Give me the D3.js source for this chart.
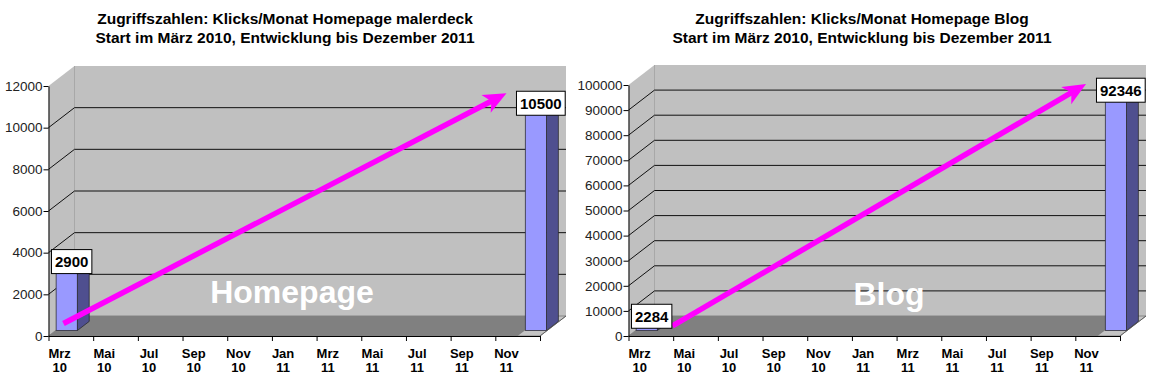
<!DOCTYPE html>
<html><head><meta charset="utf-8">
<script src="https://cdn.jsdelivr.net/npm/d3@7"></script>
<style>body{margin:0;background:#fff} svg{display:block;font-family:"Liberation Sans",Arial,sans-serif}</style>
</head><body><svg id="c" width="1154" height="385"></svg>
<script>
// ---- data ----
const months = ["Mrz 10","Apr 10","Mai 10","Jun 10","Jul 10","Aug 10","Sep 10","Okt 10","Nov 10","Dez 10",
  "Jan 11","Feb 11","Mrz 11","Apr 11","Mai 11","Jun 11","Jul 11","Aug 11","Sep 11","Okt 11","Nov 11","Dez 11"];
const homepageClicks = [2900,null,null,null,null,null,null,null,null,null,null,null,null,null,null,null,null,null,null,null,null,10500];
const blogClicks = [2284,null,null,null,null,null,null,null,null,null,null,null,null,null,null,null,null,null,null,null,null,92346];
const homepageTicks = [0,2000,4000,6000,8000,10000,12000];
const blogTicks = [0,10000,20000,30000,40000,50000,60000,70000,80000,90000,100000];
const homepageTitle = ["Zugriffszahlen: Klicks/Monat Homepage malerdeck","Start im März 2010, Entwicklung bis Dezember 2011"];
const blogTitle = ["Zugriffszahlen: Klicks/Monat Homepage Blog","Start im März 2010, Entwicklung bis Dezember 2011"];
const homepageWord = "Homepage";
const blogWord = "Blog";
// trend arrows: [category position, value]
const homepageArrow = [[0.67, 600],[20.5, 11650]];
const blogArrow = [[1.97, 4000],[20.48, 100400]];

// ---- layout ----
const svg = d3.select("#c");
const DX = 26, DY = -20, F0 = 0.27, F1 = 0.73;

function drawChart(cfg, values, ticks, title, word, arrow) {
  const g = svg.append("g");
  const n = months.length;
  const x = d3.scaleLinear().domain([0, n]).range([cfg.x0, cfg.x1]);
  const y = d3.scaleLinear().domain([0, d3.max(ticks)]).range([cfg.yBot, cfg.yTop]);
  const line = d3.line();
  const x0 = cfg.x0, x1 = cfg.x1, yT = cfg.yTop, yB = cfg.yBot;

  // title
  g.append("text").attr("x", cfg.titleX).attr("y", 24).attr("text-anchor","middle")
    .attr("font-weight","bold").attr("font-size",15.5).attr("fill","#000").text(title[0]);
  g.append("text").attr("x", cfg.titleX).attr("y", 42.5).attr("text-anchor","middle")
    .attr("font-weight","bold").attr("font-size",15.5).attr("fill","#000").text(title[1]);

  // side wall
  g.append("path").attr("d", line([[x0,yT],[x0+DX,yT+DY],[x0+DX,yB+DY],[x0,yB]])+"Z")
    .attr("fill","#c0c0c0");
  // back wall
  g.append("rect").attr("x", x0+DX).attr("y", yT+DY).attr("width", x1-x0).attr("height", yB-yT)
    .attr("fill","#c0c0c0");
  g.append("line").attr("x1",x0+DX).attr("x2",x0+DX).attr("y1",yT+DY).attr("y2",yB+DY)
    .attr("stroke","#a8a8a8").attr("stroke-width",1);
  // floor
  g.append("path").attr("d", line([[x0,yB],[x0+DX,yB+DY],[x1+DX,yB+DY],[x1,yB]])+"Z")
    .attr("fill","#c4c4c4").attr("stroke","#777").attr("stroke-width",0.8);
  const lastX = x(n-1);
  g.append("path").attr("d", line([[x0,yB],[x0+DX,yB+DY],[lastX+DX,yB+DY],[lastX,yB]])+"Z")
    .attr("fill","#808080");

  // gridlines
  ticks.filter(t => t > 0 && t < d3.max(ticks)).forEach(t => {
    const yy = y(t);
    g.append("path").attr("d", line([[x0,yy],[x0+DX,yy+DY],[x1+DX,yy+DY]]))
      .attr("fill","none").attr("stroke","#111").attr("stroke-width",1);
  });

  // big word
  g.append("text").attr("x", cfg.wordX).attr("y", cfg.wordY).attr("text-anchor","middle")
    .attr("font-weight","bold").attr("font-size",32).attr("fill","#ffffff").text(word);

  // bars
  const bw = x(1) - x(0);
  const dbx = (F1-F0)*DX, dby = (F1-F0)*DY;
  const bars = [];
  values.forEach((v,i) => {
    if (v == null) return;
    const bx0 = x(i) + F0*DX + 0.6, bx1 = x(i+1) + F0*DX - 0.6;
    const yb = y(0) + F0*DY, yt = y(v) + F0*DY;
    g.append("path").attr("d", line([[bx1,yt],[bx1+dbx,yt+dby],[bx1+dbx,yb+dby],[bx1,yb]])+"Z")
      .attr("fill","#4f4f8f").attr("stroke","#222").attr("stroke-width",0.7);
    g.append("path").attr("d", line([[bx0,yt],[bx0+dbx,yt+dby],[bx1+dbx,yt+dby],[bx1,yt]])+"Z")
      .attr("fill","#7a7acc").attr("stroke","#222").attr("stroke-width",0.7);
    g.append("rect").attr("x",bx0).attr("y",yt).attr("width",bx1-bx0).attr("height",yb-yt)
      .attr("fill","#9999ff").attr("stroke","#222").attr("stroke-width",0.7);
    bars.push({v, cx:(bx0+bx1)/2 + dbx/2 - 1, cy: yt + dby/2 - 4});
  });

  // axes
  const ya = g.append("g").attr("transform",`translate(${x0},0)`)
    .call(d3.axisLeft(y).tickValues(ticks).tickFormat(d3.format("d")).tickSize(5).tickSizeOuter(0));
  ya.select(".domain").attr("stroke","#000");
  ya.selectAll(".tick line").attr("stroke","#000");
  ya.selectAll("text").attr("font-size",13.5).attr("font-family","Liberation Sans, Arial, sans-serif")
    .attr("fill","#222").attr("x",-6);

  const xa = g.append("g").attr("transform",`translate(0,${yB})`)
    .call(d3.axisBottom(x).tickValues(d3.range(0, n+1, 2)).tickFormat("").tickSize(5).tickSizeOuter(0));
  xa.select(".domain").attr("stroke","#000");
  xa.selectAll(".tick line").attr("stroke","#000");
  g.append("line").attr("x1",x1).attr("y1",yB).attr("x2",x1+DX).attr("y2",yB+DY)
    .attr("stroke","#555").attr("stroke-width",0.8);

  months.forEach((m,i) => {
    if (i % 2) return;
    const parts = m.split(" ");
    const t = g.append("text").attr("text-anchor","middle").attr("font-weight","bold")
      .attr("font-size",13).attr("fill","#000");
    t.append("tspan").attr("x", x(i+0.5)).attr("y", 358).text(parts[0]);
    t.append("tspan").attr("x", x(i+0.5)).attr("y", 372).text(parts[1]);
  });

  // arrow
  const p0 = [x(arrow[0][0]), y(arrow[0][1])], p1 = [x(arrow[1][0]), y(arrow[1][1])];
  const ang = Math.atan2(p1[1]-p0[1], p1[0]-p0[0]);
  const pe = [p1[0]-14*Math.cos(ang), p1[1]-14*Math.sin(ang)];
  g.append("path").attr("d", line([p0, pe])).attr("stroke","#ff00ff").attr("stroke-width",5.5)
    .attr("fill","none");
  g.append("path").attr("d","M0,0L-23,-10L-17,0L-23,10Z")
    .attr("transform",`translate(${p1[0]},${p1[1]}) rotate(${ang*180/Math.PI})`)
    .attr("fill","#ff00ff");

  // data labels
  bars.forEach(b => {
    const lg = g.append("g");
    const txt = lg.append("text").attr("x", b.cx).attr("y", b.cy + 5.5).attr("text-anchor","middle")
      .attr("font-weight","bold").attr("font-size",15).attr("fill","#000").text(b.v);
    const w = txt.node().getComputedTextLength() + 7;
    lg.insert("rect","text").attr("x", b.cx - w/2).attr("y", b.cy - 12).attr("width", w).attr("height", 24)
      .attr("fill","#fff").attr("stroke","#000").attr("stroke-width",1);
  });
}

drawChart({x0:48.5, x1:540, yTop:86, yBot:336, titleX:285, wordX:292, wordY:303},
  homepageClicks, homepageTicks, homepageTitle, homepageWord, homepageArrow);
drawChart({x0:628.5, x1:1120, yTop:85, yBot:336, titleX:862, wordX:889, wordY:305},
  blogClicks, blogTicks, blogTitle, blogWord, blogArrow);
</script></body></html>
